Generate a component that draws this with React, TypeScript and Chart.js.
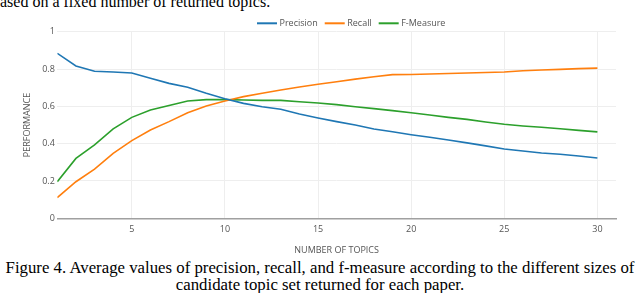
import React, { useEffect, useRef } from "react";
import { Chart, registerables } from "chart.js";

Chart.register(...registerables);

// ---- data ----
const topics = [
  1, 2, 3, 4, 5, 6, 7, 8, 9, 10, 11, 12, 13, 14, 15, 16, 17, 18, 19, 20, 21, 22,
  23, 24, 25, 26, 27, 28, 29, 30,
];
const precision = [
  0.884, 0.816, 0.788, 0.784, 0.779, 0.75, 0.723, 0.702, 0.67, 0.641, 0.616,
  0.598, 0.584, 0.559, 0.538, 0.518, 0.5, 0.479, 0.464, 0.448, 0.434, 0.42,
  0.404, 0.388, 0.371, 0.361, 0.35, 0.343, 0.334, 0.323,
];
const recall = [
  0.111, 0.196, 0.263, 0.348, 0.416, 0.473, 0.518, 0.566, 0.602, 0.629, 0.652,
  0.67, 0.688, 0.704, 0.718, 0.732, 0.746, 0.759, 0.77, 0.771, 0.773, 0.776,
  0.779, 0.781, 0.784, 0.791, 0.795, 0.798, 0.802, 0.805,
];
const fMeasure = [
  0.196, 0.321, 0.393, 0.479, 0.541, 0.58, 0.605, 0.629, 0.636, 0.636, 0.634,
  0.632, 0.632, 0.625, 0.618, 0.609, 0.598, 0.588, 0.577, 0.566, 0.554, 0.541,
  0.53, 0.516, 0.504, 0.495, 0.488, 0.48, 0.471, 0.463,
];
const seriesNames = ["Precision", "Recall", "F-Measure"];
const seriesColors = ["#1f77b4", "#ff7f0e", "#2ca02c"];
const xTickValues = [5, 10, 15, 20, 25, 30];
const yTickValues = [0, 0.2, 0.4, 0.6, 0.8, 1];
const xTitle = "NUMBER OF TOPICS";
const yTitle = "PERFORMANCE";
const topText = "ased on a fixed number of returned topics.";
const captionLine1 =
  "Figure 4. Average values of precision, recall, and f-measure according to the different sizes of";
const captionLine2 = "candidate topic set returned for each paper.";

const FONT = "'Open Sans', sans-serif";
const FS = 9;
const CANVAS_W = 640;
const CANVAS_H = 258;

const legendPlugin = {
  id: "topLegend",
  afterDraw(chart: any) {
    const ctx = chart.ctx;
    ctx.save();
    ctx.font = `${FS}px ${FONT}`;
    ctx.textBaseline = "middle";
    ctx.textAlign = "left";
    let x = 257;
    const y = 23.3;
    chart.data.datasets.forEach((ds: any) => {
      ctx.strokeStyle = ds.borderColor;
      ctx.lineWidth = 2;
      ctx.beginPath();
      ctx.moveTo(x, y);
      ctx.lineTo(x + 20, y);
      ctx.stroke();
      ctx.fillStyle = "#555";
      const tx = x + 22.5;
      ctx.fillText(ds.label, tx, y);
      x = tx + ctx.measureText(ds.label).width + 7;
    });
    ctx.restore();
  },
};

const series = [precision, recall, fMeasure];

export default function App() {
  const ref = useRef<HTMLCanvasElement>(null);

  useEffect(() => {
    if (!ref.current) return;
    const chart = new Chart(ref.current, {
      type: "line",
      data: {
        datasets: series.map((vals, i) => ({
          label: seriesNames[i],
          data: topics.map((t, j) => ({ x: t, y: vals[j] })),
          borderColor: seriesColors[i],
          backgroundColor: seriesColors[i],
          borderWidth: 1.6,
          pointRadius: 0,
          tension: 0,
          fill: false,
        })),
      },
      options: {
        responsive: false,
        animation: false,
        events: [],
        layout: {
          padding: { left: 0, right: CANVAS_W - 616, top: 31.7, bottom: 0 },
        },
        plugins: {
          legend: { display: false },
          tooltip: { enabled: false },
        },
        scales: {
          x: {
            type: "linear",
            min: 1,
            max: 31,
            afterBuildTicks: (s: any) => {
              s.ticks = xTickValues.map((v) => ({ value: v }));
            },
            afterFit: (s: any) => {
              s.height = CANVAS_H - 218.3;
            },
            grid: { color: "#eeeeee", lineWidth: 1, drawTicks: false },
            border: { display: true, color: "#a0a0a0", width: 1.6 },
            ticks: {
              padding: 6,
              color: "#555",
              font: { family: FONT, size: FS },
              maxRotation: 0,
              callback: (v: any) => String(v),
            },
            title: {
              display: true,
              text: xTitle,
              color: "#555",
              font: { family: FONT, size: FS },
              padding: { top: 0, bottom: 1.9 },
            },
          },
          y: {
            type: "linear",
            min: 0,
            max: 1,
            afterBuildTicks: (s: any) => {
              s.ticks = yTickValues.map((v) => ({ value: v }));
            },
            afterFit: (s: any) => {
              s.width = 57.3;
            },
            grid: { color: "#eeeeee", lineWidth: 1, drawTicks: false },
            border: { display: false },
            ticks: {
              padding: 2.5,
              color: "#555",
              font: { family: FONT, size: FS },
              callback: (v: any) => String(v),
            },
            title: {
              display: true,
              text: yTitle,
              color: "#555",
              font: { family: FONT, size: FS },
              padding: { top: 21.6, bottom: 0 },
            },
          },
        },
      },
      plugins: [legendPlugin],
    } as any);
    return () => chart.destroy();
  }, []);

  return (
    <div
      style={{
        position: "absolute",
        left: 0,
        top: 0,
        width: 640,
        height: 293,
        overflow: "hidden",
        background: "#fff",
      }}
    >
      <div
        style={{
          position: "absolute",
          left: 0,
          top: -6,
          whiteSpace: "nowrap",
          fontFamily: "'Liberation Serif', 'Times New Roman', serif",
          fontSize: 16,
          lineHeight: "15px",
          color: "#000",
        }}
      >
        {topText}
      </div>
      <canvas
        ref={ref}
        width={CANVAS_W}
        height={CANVAS_H}
        style={{
          position: "absolute",
          left: 0,
          top: 0,
          width: CANVAS_W,
          height: CANVAS_H,
          display: "block",
        }}
      />
      <div
        style={{
          position: "absolute",
          left: 0,
          top: 259,
          width: 640,
          textAlign: "center",
          whiteSpace: "nowrap",
          fontFamily: "'Liberation Serif', 'Times New Roman', serif",
          fontSize: 16.8,
          lineHeight: "17px",
          color: "#000",
        }}
      >
        {captionLine1}
        <br />
        {captionLine2}
      </div>
    </div>
  );
}
